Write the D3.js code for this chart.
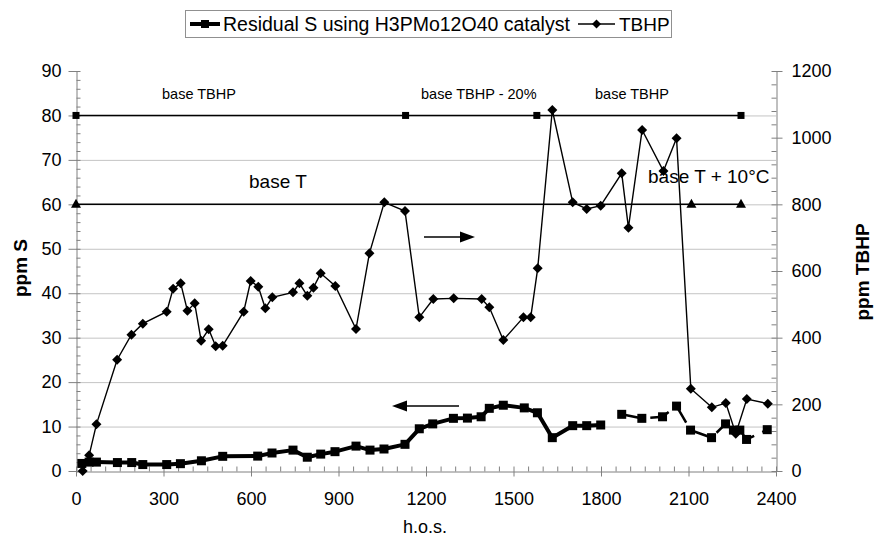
<!DOCTYPE html>
<html>
<head>
<meta charset="utf-8">
<script src="https://cdn.jsdelivr.net/npm/d3@7"></script>
<style>
  html, body { margin: 0; padding: 0; background: #fff; }
  svg { display: block; font-family: "Liberation Sans", Arial, sans-serif; }
</style>
</head>
<body>
<svg id="chart" width="874" height="542"></svg>
<script>
// ---- data ----
const xTicks = [0, 300, 600, 900, 1200, 1500, 1800, 2100, 2400];
const yLeftTicks = [0, 10, 20, 30, 40, 50, 60, 70, 80, 90];
const yRightTicks = [0, 200, 400, 600, 800, 1000, 1200];

// Residual S (ppm S), first (solid) part
const hosS1 = [20, 45, 70, 142, 191, 229, 311, 358, 430, 503, 623, 672, 744, 793, 839, 888, 960, 1008, 1056, 1128, 1177, 1223, 1294, 1342, 1389, 1417, 1465, 1537, 1582, 1633, 1703, 1751, 1799];
const resS1 = [1.7, 2.0, 2.0, 1.9, 1.9, 1.45, 1.45, 1.65, 2.3, 3.3, 3.35, 4.05, 4.7, 3.1, 3.8, 4.35, 5.6, 4.7, 4.95, 6.0, 9.5, 10.6, 11.85, 11.9, 12.2, 14.1, 14.8, 14.2, 13.1, 7.5, 10.2, 10.2, 10.35];
// Residual S, later (broken) part
const hosS2 = [1871, 1940, 2011, 2059, 2107, 2179, 2227, 2254, 2276, 2299, 2370];
const resS2 = [12.75, 11.85, 12.2, 14.6, 9.2, 7.5, 10.6, 9.2, 9.2, 7.1, 9.3];

// TBHP (ppm TBHP, right axis)
const hosT = [23, 45, 70, 141, 190, 229, 311, 333, 359, 382, 407, 429, 455, 479, 503, 575, 599, 625, 649, 673, 744, 766, 793, 814, 839, 889, 960, 1006, 1057, 1128, 1177, 1225, 1295, 1391, 1417, 1465, 1534, 1559, 1583, 1633, 1703, 1751, 1799, 1871, 1894, 1941, 2014, 2059, 2108, 2180, 2228, 2262, 2300, 2372];
const tbhp = [0, 47, 140, 334, 409, 442, 478, 547, 563, 481, 503, 391, 425, 374, 376, 478, 570, 553, 488, 521, 536, 563, 526, 550, 593, 555, 426, 653, 806, 780, 461, 516, 518, 516, 491, 393, 461, 461, 608, 1083, 806, 786, 796, 893, 730, 1023, 900, 998, 247, 191, 204, 112, 216, 202];

// reference level lines (ppm S axis)
const refTbhpHos = [0, 1130, 1580, 2280];
const refTbhpLevel = 80;
const refTempHos = [0, 2110, 2280];
const refTempLevel = 60;

// ---- layout ----
const svg = d3.select("#chart");
const L = 76, R = 776, T = 71, B = 471;
const x = d3.scaleLinear().domain([0, 2400]).range([L, R]);
const yL = d3.scaleLinear().domain([0, 90]).range([B, T]);
const yR = d3.scaleLinear().domain([0, 1200]).range([B, T]);
const axisColor = "#808080";
const gridColor = "#c4c4c4";

// gridlines
svg.append("g").selectAll("line")
  .data(yLeftTicks.filter(v => v > 0 && v < 90))
  .join("line")
  .attr("x1", L).attr("x2", R)
  .attr("y1", d => yL(d) + 0.5).attr("y2", d => yL(d) + 0.5)
  .attr("stroke", gridColor).attr("stroke-width", 1);

function styleAxis(g) {
  g.select(".domain").attr("stroke", axisColor);
  g.selectAll(".tick line").attr("stroke", axisColor);
  g.selectAll("text").attr("fill", "#000").attr("font-size", "18px")
    .attr("font-family", '"Liberation Sans", Arial, sans-serif');
}

// x axis minor ticks
const xMinor = d3.range(0, 2401, 50).filter(v => v % 300 !== 0);
svg.append("g").attr("transform", `translate(0,${B + 0.5})`)
  .call(d3.axisBottom(x).tickValues(xMinor).tickSize(-5).tickFormat(""))
  .call(g => { g.select(".domain").remove(); g.selectAll("line").attr("stroke", axisColor); });
// x axis major
svg.append("g").attr("transform", `translate(0,${B + 0.5})`)
  .call(d3.axisBottom(x).tickValues(xTicks).tickSizeInner(5).tickSizeOuter(0).tickPadding(16).tickFormat(d3.format("d")))
  .call(styleAxis)
  .call(g => g.selectAll(".tick line").attr("y1", -5).attr("y2", 5));

// left axis minor
const yLMinor = d3.range(0, 90.01, 2).filter(v => v % 10 !== 0);
svg.append("g").attr("transform", `translate(${L + 0.5},0)`)
  .call(d3.axisLeft(yL).tickValues(yLMinor).tickSize(-4).tickFormat(""))
  .call(g => { g.select(".domain").remove(); g.selectAll("line").attr("stroke", axisColor); });
svg.append("g").attr("transform", `translate(${L + 0.5},0)`)
  .call(d3.axisLeft(yL).tickValues(yLeftTicks).tickSizeInner(8).tickSizeOuter(0).tickPadding(7).tickFormat(d3.format("d")))
  .call(styleAxis)
  .call(g => g.selectAll(".tick line").attr("x1", 4).attr("x2", -8));

// right axis minor
const yRMinor = d3.range(0, 1200.01, 40).filter(v => v % 200 !== 0);
svg.append("g").attr("transform", `translate(${R + 0.5},0)`)
  .call(d3.axisRight(yR).tickValues(yRMinor).tickSize(-5).tickFormat(""))
  .call(g => { g.select(".domain").remove(); g.selectAll("line").attr("stroke", axisColor); });
svg.append("g").attr("transform", `translate(${R + 0.5},0)`)
  .call(d3.axisRight(yR).tickValues(yRightTicks).tickSizeInner(6).tickSizeOuter(0).tickPadding(9).tickFormat(d3.format("d")))
  .call(styleAxis)
  .call(g => g.selectAll(".tick line").attr("x1", -5).attr("x2", 6));

// reference lines
const refLine = d3.line().x(d => x(d[0])).y(d => yL(d[1]));
const ref80 = refTbhpHos.map(h => [h, refTbhpLevel]);
const ref60 = refTempHos.map(h => [h, refTempLevel]);
svg.append("path").attr("d", refLine(ref80)).attr("fill", "none").attr("stroke", "#000").attr("stroke-width", 1.5);
svg.append("path").attr("d", refLine(ref60)).attr("fill", "none").attr("stroke", "#000").attr("stroke-width", 1.5);
svg.append("g").selectAll("rect").data(ref80).join("rect")
  .attr("x", d => x(d[0]) - 3.5).attr("y", d => yL(d[1]) - 3.5)
  .attr("width", 7).attr("height", 7).attr("fill", "#000");
svg.append("g").selectAll("path").data(ref60).join("path")
  .attr("transform", d => `translate(${x(d[0])},${yL(d[1])})`)
  .attr("d", "M0,-5.5L5,3.5L-5,3.5Z").attr("fill", "#000");

// TBHP series
const tData = hosT.map((h, i) => [h, tbhp[i]]);
svg.append("path")
  .attr("d", d3.line().x(d => x(d[0])).y(d => yR(d[1]))(tData))
  .attr("fill", "none").attr("stroke", "#000").attr("stroke-width", 1.4);
const diamond = "M0,-5L5,0L0,5L-5,0Z";
svg.append("g").selectAll("path").data(tData).join("path")
  .attr("transform", d => `translate(${x(d[0])},${yR(d[1])})`)
  .attr("d", diamond).attr("fill", "#000");

// Residual S series
const s1 = hosS1.map((h, i) => [h, resS1[i]]);
const s2 = hosS2.map((h, i) => [h, resS2[i]]);
const sLine = d3.line().x(d => x(d[0])).y(d => yL(d[1]));
svg.append("path").attr("d", sLine(s1))
  .attr("fill", "none").attr("stroke", "#000").attr("stroke-width", 4).attr("stroke-linejoin", "round");
svg.append("path").attr("d", sLine(s2))
  .attr("fill", "none").attr("stroke", "#000").attr("stroke-width", 2.5)
  .attr("stroke-dasharray", "20,9");
svg.append("g").selectAll("rect").data(s1.concat(s2)).join("rect")
  .attr("x", d => x(d[0]) - 4.5).attr("y", d => yL(d[1]) - 4.5)
  .attr("width", 9).attr("height", 9).attr("fill", "#000");

// annotations
const ann = svg.append("g").attr("fill", "#000");
ann.append("text").attr("x", 162).attr("y", 99).attr("font-size", "14.5px").text("base TBHP");
ann.append("text").attr("x", 421).attr("y", 99).attr("font-size", "14.5px").text("base TBHP - 20%");
ann.append("text").attr("x", 595).attr("y", 99).attr("font-size", "14.5px").text("base TBHP");
ann.append("text").attr("x", 249).attr("y", 188).attr("font-size", "19px").text("base T");
ann.append("text").attr("x", 648).attr("y", 183).attr("font-size", "19px").text("base T + 10°C");

// arrows
svg.append("line").attr("x1", 424).attr("x2", 462).attr("y1", 237).attr("y2", 237).attr("stroke", "#000").attr("stroke-width", 1.5);
svg.append("path").attr("d", "M475,237L460,231.5L460,242.5Z").attr("fill", "#000");
svg.append("line").attr("x1", 404).attr("x2", 459).attr("y1", 406).attr("y2", 406).attr("stroke", "#000").attr("stroke-width", 1.5);
svg.append("path").attr("d", "M392,406L407,400.5L407,411.5Z").attr("fill", "#000");

// axis titles
svg.append("text").attr("x", 425).attr("y", 533).attr("text-anchor", "middle").attr("font-size", "18px").text("h.o.s.");
svg.append("text").attr("transform", "translate(27,268) rotate(-90)").attr("text-anchor", "middle")
  .attr("font-size", "19px").attr("font-weight", "bold").text("ppm S");
svg.append("text").attr("transform", "translate(869,272) rotate(-90)").attr("text-anchor", "middle")
  .attr("font-size", "19px").attr("font-weight", "bold").text("ppm TBHP");

// legend
const lg = svg.append("g");
lg.append("rect").attr("x", 185.5).attr("y", 10.5).attr("width", 486).attr("height", 27)
  .attr("fill", "#fff").attr("stroke", "#909090");
lg.append("line").attr("x1", 190).attr("x2", 220).attr("y1", 24).attr("y2", 24).attr("stroke", "#000").attr("stroke-width", 4);
lg.append("rect").attr("x", 201).attr("y", 20).attr("width", 8).attr("height", 8).attr("fill", "#000");
lg.append("text").attr("x", 223).attr("y", 30.5).attr("font-size", "19.5px").text("Residual S using H3PMo12O40 catalyst");
lg.append("line").attr("x1", 578).attr("x2", 615).attr("y1", 24).attr("y2", 24).attr("stroke", "#000").attr("stroke-width", 1.4);
lg.append("path").attr("transform", "translate(596.5,24)").attr("d", "M0,-4.5L4.5,0L0,4.5L-4.5,0Z").attr("fill", "#000");
lg.append("text").attr("x", 619).attr("y", 30.5).attr("font-size", "19px").text("TBHP");
</script>
</body>
</html>
